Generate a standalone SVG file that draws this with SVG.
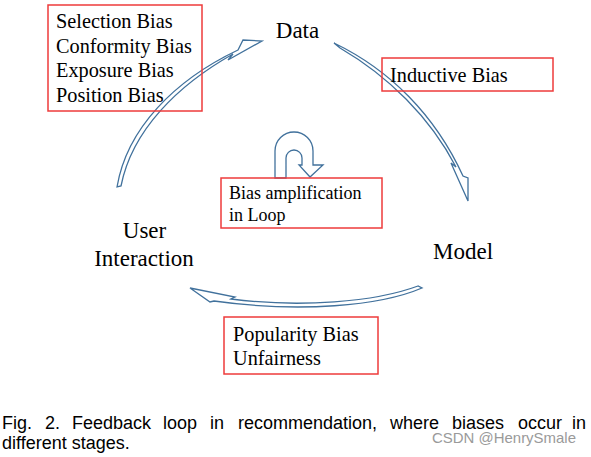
<svg xmlns="http://www.w3.org/2000/svg" width="591" height="457" viewBox="0 0 591 457">
<style>
.box{fill:none;stroke:#ee3b3b;stroke-width:1.5}
.t{font-family:"Liberation Serif",serif;font-size:20.3px;fill:#000}
.tl{font-family:"Liberation Serif",serif;font-size:23px;fill:#000}
.ts{font-family:"Liberation Serif",serif;font-size:18px;fill:#000}
.arr{fill:#fff;stroke:#41719c;stroke-width:1.3;stroke-linejoin:miter}
.cap{font-family:"Liberation Sans",sans-serif;font-size:18px;fill:#000}
</style>
<rect width="591" height="457" fill="#fff"/>
<g id="connectors">
<path class="arr" d="M117,187 C127,128 175,80 238,50 L243,40 L262,41 L228,60 L233,54 C178,85 132,130 121,186 Z"/>
<path class="arr" d="M334,43 C390,70 435,115 463,176 L468,178 L468,201 L451,163 L456,167 C430,117 388,76 340,48 Z"/>
<path class="arr" d="M190,288 L235,297 L231,299 C300,308 375,302 418,286 L422,288 C380,306 300,313 214,301 L210,302 Z"/>
<path class="arr" d="M275,178 L275,151 A19,19 0 0 1 313,151 L313,165 L323,165 L310,177 L299,165 L302,165 L302,158 A8,8 0 0 0 286,158 L286,178 Z"/>
</g>
<g id="data"><text class="tl" x="297.5" y="38" text-anchor="middle">Data</text></g>
<g id="model"><text class="tl" x="463" y="259" text-anchor="middle">Model</text></g>
<g id="user"><text class="tl" x="144.5" y="238" text-anchor="middle">User</text><text class="tl" x="144" y="266" text-anchor="middle">Interaction</text></g>
<g id="data-biases">
<rect class="box" x="48" y="5" width="154" height="106"/>
<text class="t" x="56" y="28">Selection Bias</text>
<text class="t" x="56" y="53">Conformity Bias</text>
<text class="t" x="56" y="77">Exposure Bias</text>
<text class="t" x="56" y="102">Position Bias</text>
</g>
<g id="inductive">
<rect class="box" x="382" y="58" width="171" height="33"/>
<text class="t" x="390" y="82">Inductive Bias</text>
</g>
<g id="amplification">
<rect class="box" x="221" y="178" width="161" height="50"/>
<text class="ts" x="229" y="199">Bias amplification</text>
<text class="ts" x="229" y="221">in Loop</text>
</g>
<g id="popularity">
<rect class="box" x="224" y="317" width="154" height="57"/>
<text class="t" x="233" y="341">Popularity Bias</text>
<text class="t" x="233" y="365">Unfairness</text>
</g>
<g id="caption">
<text class="cap" y="429"><tspan x="2">Fig.</tspan><tspan x="45">2.</tspan><tspan x="72">Feedback</tspan><tspan x="163">loop</tspan><tspan x="210">in</tspan><tspan x="238">recommendation,</tspan><tspan x="390">where</tspan><tspan x="452">biases</tspan><tspan x="518">occur</tspan><tspan x="572">in</tspan></text>
<text class="cap" x="2" y="449">different stages.</text>
<text x="432" y="443" font-family="Liberation Sans,sans-serif" font-size="14.5" fill="#9a9a9a" textLength="144" lengthAdjust="spacingAndGlyphs">CSDN @HenrySmale</text>
</g>
</svg>
